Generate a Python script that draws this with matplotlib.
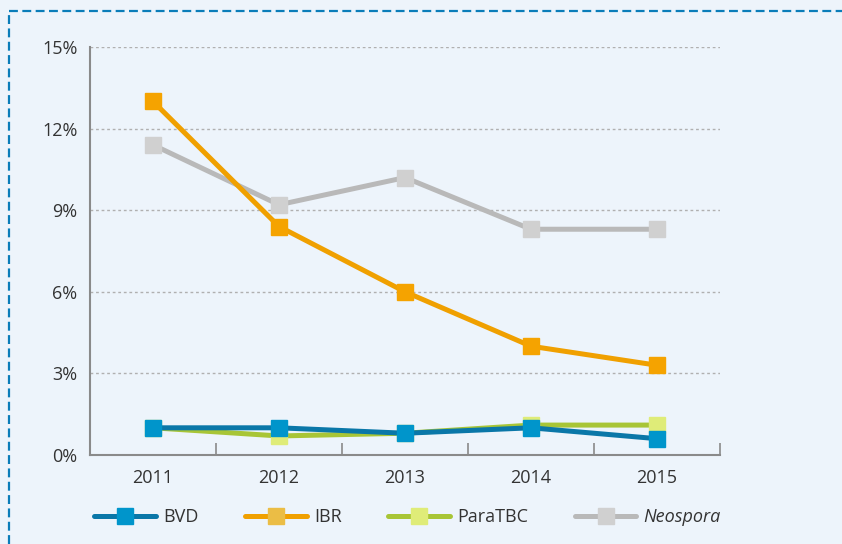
# Prevalence by year, line chart with square markers
import matplotlib.pyplot as plt
from matplotlib.lines import Line2D

plt.rcParams['font.family'] = ['Open Sans', 'DejaVu Sans']

years = ['2011', '2012', '2013', '2014', '2015']
bvd = [1.0, 1.0, 0.8, 1.0, 0.6]
ibr = [13.0, 8.4, 6.0, 4.0, 3.3]
paratbc = [1.0, 0.7, 0.8, 1.1, 1.1]
neospora = [11.4, 9.2, 10.2, 8.3, 8.3]

yticks = [0, 3, 6, 9, 12, 15]

bg = '#edf4fb'
# (line colour, marker colour, legend marker colour)
styles = {
    'BVD': ('#0a77a8', '#0095cb', '#0095cb'),
    'IBR': ('#f0a000', '#f5a300', '#ebbd45'),
    'ParaTBC': ('#a8c536', '#dfec78', '#dfec78'),
    'Neospora': ('#b9b9b9', '#d0d0d0', '#d0d0d0'),
}

fig = plt.figure(figsize=(8.42, 5.44), dpi=100, facecolor=bg)
ax = fig.add_axes([90/842, 89/544, 630/842, 408/544], facecolor=bg)

x = list(range(len(years)))
series = [('Neospora', neospora), ('ParaTBC', paratbc), ('BVD', bvd), ('IBR', ibr)]
for name, vals in series:
    lc, mc, _ = styles[name]
    ax.plot(x, vals, color=lc, lw=3.6, marker='s', ms=12, mfc=mc, mec=mc,
            solid_capstyle='round')

ax.set_xlim(-0.5, 4.5)
ax.set_ylim(0, 15)
ax.set_yticks(yticks)
ax.set_yticklabels([f'{v}%' for v in yticks])
ax.set_xticks(x)
ax.set_xticklabels(years)
ax.set_xticks([i - 0.5 for i in range(1, 6)], minor=True)
ax.tick_params(axis='x', which='major', length=0, pad=10, labelsize=13, labelcolor='#333333')
ax.tick_params(axis='x', which='minor', direction='in', length=9, width=1.2, color='#8a8a8a')
ax.tick_params(axis='y', length=0, pad=9, labelsize=13, labelcolor='#333333')

for v in yticks[1:]:
    ax.axhline(v, color='#b0b0b0', lw=1, ls=(0, (2, 2)), zorder=0)

for s in ['top', 'right']:
    ax.spines[s].set_visible(False)
for s in ['left', 'bottom']:
    ax.spines[s].set_color('#8a8a8a')
    ax.spines[s].set_linewidth(1.5)

handles = []
labels = []
for name in ['BVD', 'IBR', 'ParaTBC', 'Neospora']:
    lc, _, lm = styles[name]
    handles.append(Line2D([], [], color=lc, lw=3.6, marker='s', ms=12, mfc=lm, mec=lm,
                          solid_capstyle='round'))
    labels.append(name)
leg = fig.legend(handles, labels, loc='center left', bbox_to_anchor=(78/842, 1 - 517/544),
                 ncol=4, frameon=False, fontsize=13, handlelength=3.4, handletextpad=0.4,
                 columnspacing=2.6, labelcolor='#333333')
leg.get_texts()[3].set_style('italic')

# dashed frame on top and left
fig.add_artist(Line2D([9/842, 9/842], [0, 1 - 11/544], color='#0a7db9', lw=1.6,
                      ls=(0, (4, 2)), transform=fig.transFigure))
fig.add_artist(Line2D([9/842, 1], [1 - 11/544, 1 - 11/544], color='#0a7db9', lw=1.6,
                      ls=(0, (4, 2)), transform=fig.transFigure))

fig.savefig('out.png', dpi=100, facecolor=bg)
